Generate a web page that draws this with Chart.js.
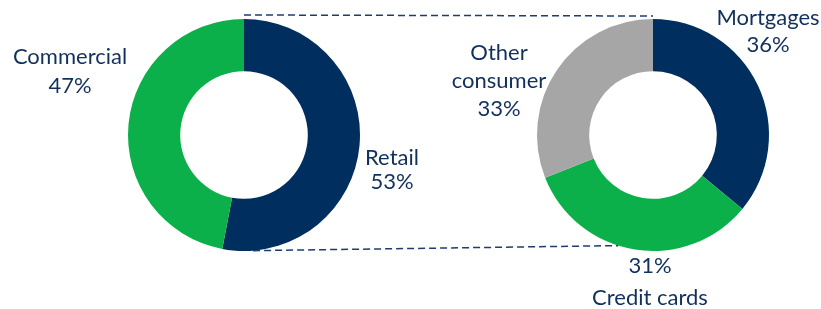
<!DOCTYPE html>
<html>
<head>
<meta charset="utf-8">
<script src="https://cdn.jsdelivr.net/npm/chart.js@4.4.1/dist/chart.umd.min.js"></script>
<style>
  html, body { margin: 0; padding: 0; background: #fff; }
  #wrap { position: relative; width: 821px; height: 309px; }
  .box { position: absolute; top: 0; height: 309px; }
  #overlay { position: absolute; left: 0; top: 0; pointer-events: none; }
</style>
</head>
<body>
<div id="wrap">
  <div class="box" style="left:0;width:410px"><canvas id="chart-left"></canvas></div>
  <div class="box" style="left:410px;width:411px"><canvas id="chart-right"></canvas></div>
  <canvas id="overlay" width="821" height="309"></canvas>
</div>
<script>
// ─── Дані ────────────────────────────────────────────────────────────────────
const leftCategories = ["Retail", "Commercial"];
const leftValues = [53, 47];
const leftPctLabels = ["53%", "47%"];

const rightCategories = ["Mortgages", "Credit cards", "Other consumer"];
const rightValues = [36, 33, 31];
const rightPctLabels = ["36%", "31%", "33%"];

const NAVY = "#002f5f";
const GREEN = "#0cb04a";
const GREY = "#a6a6a6";
const TEXT = "#12305c";
const FONT = "Lato, 'Noto Sans', sans-serif";

// ─── Підписи (зміщення від центру кільця) ────────────────────────────────────
const leftLabelPos = [
  { lines: [leftCategories[0], leftPctLabels[0]], dx: 148, dy: 23, gap: 24 },
  { lines: [leftCategories[1], leftPctLabels[1]], dx: -174, dy: -78, gap: 29 }
];
const rightLabelPos = [
  { lines: [rightCategories[0], rightPctLabels[0]], dx: 115, dy: -117, gap: 27 },
  { lines: [rightPctLabels[1], rightCategories[1]], dx: -3, dy: 131, gap: 32 },
  { lines: ["Other", "consumer", rightPctLabels[2]], dx: -154, dy: -82, gap: 28 }
];

function makeDonut(id, labels, values, colors, padding) {
  return new Chart(document.getElementById(id), {
    type: "doughnut",
    data: {
      labels,
      datasets: [{ data: values, backgroundColor: colors, borderWidth: 0 }]
    },
    options: {
      responsive: true,
      maintainAspectRatio: false,
      animation: false,
      cutout: "55%",
      layout: { padding },
      plugins: {
        legend: { display: false },
        tooltip: { enabled: false }
      }
    }
  });
}

const leftChart = makeDonut("chart-left", leftCategories, leftValues, [NAVY, GREEN],
  { left: 128, right: 50, top: 19, bottom: 58 });
const rightChart = makeDonut("chart-right", rightCategories, rightValues, [NAVY, GREEN, GREY],
  { left: 127, right: 52, top: 19, bottom: 58 });

// ─── Пунктирні лінії та підписи ──────────────────────────────────────────────
function pointOn(chart, offsetX, angleDeg, extra) {
  const arc = chart.getDatasetMeta(0).data[0];
  const a = (angleDeg - 90) * Math.PI / 180;
  const r = arc.outerRadius + extra;
  return { x: offsetX + arc.x + r * Math.cos(a), y: arc.y + r * Math.sin(a) };
}

function drawLabels(ctx, chart, offsetX, items) {
  const arc = chart.getDatasetMeta(0).data[0];
  ctx.save();
  ctx.fillStyle = TEXT;
  ctx.font = "22px " + FONT;
  ctx.textAlign = "center";
  ctx.textBaseline = "middle";
  items.forEach(it => {
    it.lines.forEach((ln, i) => {
      ctx.fillText(ln, offsetX + arc.x + it.dx, arc.y + it.dy + i * it.gap);
    });
  });
  ctx.restore();
}

function drawOverlay() {
  const ctx = document.getElementById("overlay").getContext("2d");
  ctx.clearRect(0, 0, 821, 309);
  ctx.save();
  ctx.strokeStyle = "#1f3c6c";
  ctx.lineWidth = 1.5;
  ctx.setLineDash([7, 4]);

  const t1 = pointOn(leftChart, 0, 0, 4);
  const t2 = pointOn(rightChart, 410, 0, 3);
  ctx.beginPath(); ctx.moveTo(t1.x, t1.y); ctx.lineTo(t2.x, t2.y); ctx.stroke();

  const b1 = pointOn(leftChart, 0, 175.5, 0);
  const b2 = pointOn(rightChart, 410, 197.5, 0);
  ctx.beginPath(); ctx.moveTo(b1.x, b1.y); ctx.lineTo(b2.x, b2.y); ctx.stroke();
  ctx.restore();

  drawLabels(ctx, leftChart, 0, leftLabelPos);
  drawLabels(ctx, rightChart, 410, rightLabelPos);
}
drawOverlay();
</script>
</body>
</html>
